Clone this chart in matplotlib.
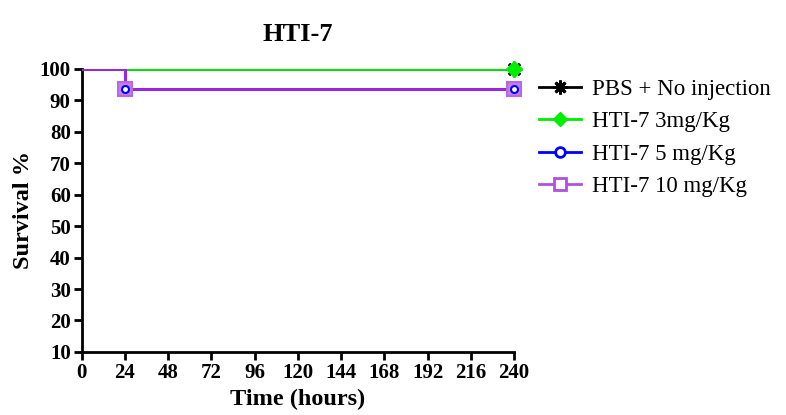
import numpy as np
import matplotlib
matplotlib.use("Agg")
import matplotlib.pyplot as plt

plt.rcParams['font.family'] = ['Liberation Serif', 'DejaVu Serif']

# survival step data (time in hours, survival %)
pbs_t = [0, 240]
pbs_s = [100, 100]
hti3_t = [0, 240]
hti3_s = [100, 100]
hti5_t = [0, 24, 240]
hti5_s = [100, 93.75, 93.75]
hti10_t = [0, 24, 240]
hti10_s = [100, 93.75, 93.75]

labels = ["PBS + No injection", "HTI-7 3mg/Kg", "HTI-7 5 mg/Kg", "HTI-7 10 mg/Kg"]
xticks = np.arange(0, 241, 24)
yticks = np.arange(10, 101, 10)

fig = plt.figure(figsize=(7.86, 4.15), dpi=100)
ax = fig.add_axes([0.104, 0.152, 0.550, 0.682])

purple = '#a626e0'

# lines
ax.step(pbs_t, pbs_s, where='post', color='black', lw=2, zorder=2)
ax.step(hti3_t, hti3_s, where='post', color='#00ee00', lw=2, zorder=3)
ax.step(hti5_t, hti5_s, where='post', color='#0000ff', lw=2, zorder=3)
ax.step(hti10_t, hti10_s, where='post', color=purple, lw=2, zorder=4)

# markers at events / end
ax.plot(pbs_t[1:], pbs_s[1:], ls='none', marker=(8, 2, 0), ms=11, mew=2,
        color='black', zorder=5, clip_on=False)
ax.plot(hti3_t[1:], hti3_s[1:], ls='none', marker='D', ms=8, color='#00ee00',
        zorder=6, clip_on=False)
ax.plot(hti10_t[1:], hti10_s[1:], ls='none', marker='s', ms=10, mfc='#c47fe0',
        mec='#b868e4', mew=1.5, zorder=6, clip_on=False)
ax.plot(hti5_t[1:], hti5_s[1:], ls='none', marker='o', ms=5, mfc='white',
        mec='#0000ff', mew=1.5, zorder=7, clip_on=False)

# legend handles
h1, = ax.plot([], [], color='black', lw=2, marker=(8, 2, 0), ms=10, mew=2)
h2, = ax.plot([], [], color='#00ee00', lw=2, marker='D', ms=7)
h3, = ax.plot([], [], color='#0000ff', lw=2, marker='o', ms=7, mfc='white', mew=2)
h4, = ax.plot([], [], color='#b050e0', lw=2, marker='s', ms=8, mfc='white', mew=2)
leg = fig.legend([h1, h2, h3, h4], labels, loc='upper left',
                 bbox_to_anchor=(0.66, 0.86), frameon=False, fontsize=16.5,
                 handlelength=1.8, labelspacing=0.5, handletextpad=0.5)

ax.set_xlim(0, 240)
ax.set_ylim(10, 100)
ax.set_xticks(xticks)
ax.set_yticks(yticks)
for sp in ['top', 'right']:
    ax.spines[sp].set_visible(False)
for sp in ['left', 'bottom']:
    ax.spines[sp].set_linewidth(2)
ax.tick_params(width=2, length=6, labelsize=15, pad=2)
for lab in ax.get_xticklabels() + ax.get_yticklabels():
    lab.set_fontweight('bold')

ax.set_xlabel("Time (hours)", fontsize=17.5, fontweight='bold', labelpad=4)
ax.set_ylabel("Survival %", fontsize=17.5, fontweight='bold', labelpad=4)
ax.set_title("HTI-7", fontsize=19, fontweight='bold', pad=20)

fig.savefig("out.png", dpi=100)
